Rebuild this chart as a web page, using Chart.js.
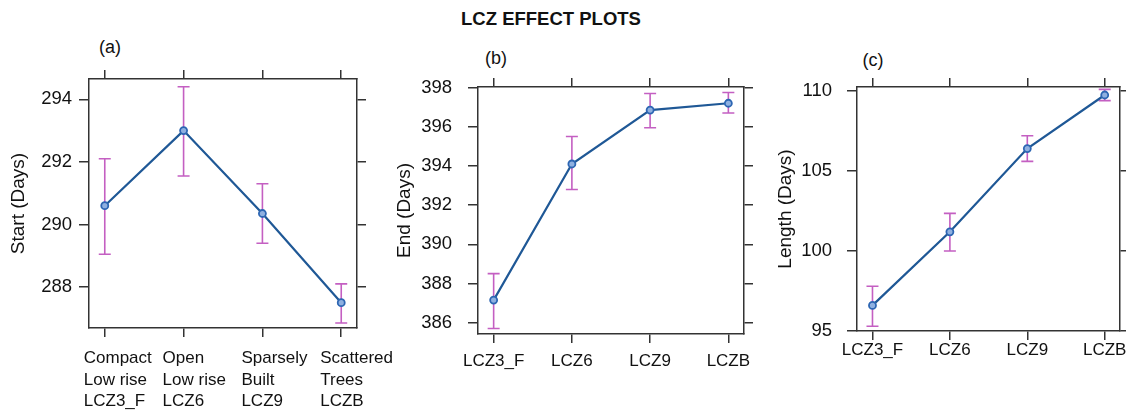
<!DOCTYPE html>
<html>
<head>
<meta charset="utf-8">
<script src="https://cdn.jsdelivr.net/npm/chart.js@4.4.1/dist/chart.umd.min.js"></script>
<style>
  body { margin: 0; background: #fff; width: 1126px; height: 414px; overflow: hidden; position: relative; font-family: 'Liberation Sans', Arial, sans-serif; }
  canvas { position: absolute; }
  .lbl { position: absolute; color: #111; font-size: 18px; transform: translate(-50%, -50%); white-space: nowrap; }
  #title { font-weight: bold; font-size: 18.5px; }
</style>
</head>
<body>
<div class="lbl" id="title" style="left:551px; top:19px;">LCZ EFFECT PLOTS</div>
<div class="lbl" style="left:110px; top:47px;">(a)</div>
<div class="lbl" style="left:496px; top:58px;">(b)</div>
<div class="lbl" style="left:873px; top:60px;">(c)</div>

<canvas id="chartB" width="375" height="340" style="left:380px; top:40px;"></canvas>
<canvas id="chartC" width="371" height="340" style="left:755px; top:40px;"></canvas>
<canvas id="chartA" width="400" height="374" style="left:0px; top:40px;"></canvas>

<script>
// categories
const zoneLabelsLong = [
    ['Compact', 'Low rise', 'LCZ3_F'],
    ['Open', 'Low rise', 'LCZ6'],
    ['Sparsely', 'Built', 'LCZ9'],
    ['Scattered', 'Trees', 'LCZB']
];
const zoneLabels = ['LCZ3_F', 'LCZ6', 'LCZ9', 'LCZB'];

// (a) start of season
const startMean = [290.6, 293.0, 290.35, 287.5];
const startLow = [289.05, 291.55, 289.4, 286.85];
const startHigh = [292.1, 294.4, 291.3, 288.1];
const startTicks = [288, 290, 292, 294];

// (b) end of season
const endMean = [387.15, 394.1, 396.85, 397.2];
const endLow = [385.7, 392.8, 395.95, 396.7];
const endHigh = [388.5, 395.5, 397.7, 397.75];
const endTicks = [386, 388, 390, 392, 394, 396, 398];

// (c) length of season
const lengthMean = [96.6, 101.2, 106.4, 109.75];
const lengthLow = [95.3, 100.0, 105.6, 109.4];
const lengthHigh = [97.8, 102.35, 107.2, 110.1];
const lengthTicks = [95, 100, 105, 110];

const FONT = "'Liberation Sans', Arial, sans-serif";
const INK = '#333';

// draws the magenta confidence bars under the line
const errorBars = {
    id: 'errorBars',
    beforeDatasetsDraw(chart, args, opts) {
        const ctx = chart.ctx;
        const x = chart.scales.x;
        const y = chart.scales.y;
        ctx.save();
        ctx.strokeStyle = opts.color;
        ctx.lineWidth = 1.6;
        opts.low.forEach((lo, i) => {
            const px = x.getPixelForValue(i);
            const y1 = y.getPixelForValue(lo);
            const y2 = y.getPixelForValue(opts.high[i]);
            ctx.beginPath();
            ctx.moveTo(px, y1);
            ctx.lineTo(px, y2);
            ctx.moveTo(px - 6, y1);
            ctx.lineTo(px + 6, y1);
            ctx.moveTo(px - 6, y2);
            ctx.lineTo(px + 6, y2);
            ctx.stroke();
        });
        ctx.restore();
    }
};

// fix an axis box to a set size, with no extra label padding
function fixBox(size, horizontal) {
    return s => {
        if (horizontal) s.height = size; else s.width = size;
        s.paddingLeft = 0;
        s.paddingRight = 0;
        s.paddingTop = 0;
        s.paddingBottom = 0;
    };
}

function createPanel(elementId, p) {
    const ctx = document.getElementById(elementId).getContext('2d');
    const catTicks = s => { s.ticks = p.labels.map((_, i) => ({ value: i })); };
    const valTicks = s => { s.ticks = p.yTicks.map(v => ({ value: v })); };
    const grid = { drawOnChartArea: false, color: INK, lineWidth: 1.5, tickLength: 9 };
    const border = { display: true, color: INK, width: 1.5 };
    return new Chart(ctx, {
        type: 'line',
        data: {
            datasets: [{
                data: p.mean.map((v, i) => ({ x: i, y: v })),
                borderColor: '#1f5896',
                borderWidth: 2.2,
                pointRadius: 3.5,
                pointBorderWidth: 1.8,
                pointBorderColor: '#2d66b3',
                pointBackgroundColor: '#8fb0e0',
                tension: 0
            }]
        },
        options: {
            responsive: false,
            animation: false,
            layout: { padding: 0 },
            plugins: {
                legend: { display: false },
                tooltip: { enabled: false },
                errorBars: { low: p.low, high: p.high, color: '#c45fc2' }
            },
            scales: {
                x: {
                    type: 'linear', position: 'bottom', min: -0.2, max: 3.2,
                    afterBuildTicks: catTicks,
                    afterFit: fixBox(p.bottomH, true),
                    grid: grid, border: border,
                    ticks: {
                        autoSkip: false, maxRotation: 0, color: '#111',
                        font: { family: FONT, size: 17, lineHeight: p.xLine },
                        padding: p.xPad, align: p.xAlign, labelOffset: p.xOffset,
                        callback: v => p.labels[v]
                    }
                },
                x2: {
                    type: 'linear', position: 'top', min: -0.2, max: 3.2,
                    afterBuildTicks: catTicks,
                    afterFit: fixBox(p.topH, true),
                    grid: grid, border: border,
                    ticks: { display: false }
                },
                y: {
                    min: p.yMin, max: p.yMax,
                    afterBuildTicks: valTicks,
                    afterFit: fixBox(p.leftW, false),
                    grid: Object.assign({}, grid, { tickLength: 10 }), border: border,
                    ticks: { color: '#111', font: { family: FONT, size: 18.5 }, padding: p.yPad },
                    title: {
                        display: true, text: p.title, color: '#111',
                        font: { family: FONT, size: 19 }, padding: { top: p.titlePad, bottom: 0 }
                    }
                },
                y2: {
                    position: 'right', min: p.yMin, max: p.yMax,
                    afterBuildTicks: valTicks,
                    afterFit: fixBox(p.rightW, false),
                    grid: grid, border: border,
                    ticks: { display: false }
                }
            }
        },
        plugins: [errorBars]
    });
}

createPanel('chartA', {
    labels: zoneLabelsLong, mean: startMean, low: startLow, high: startHigh,
    yTicks: startTicks, yMin: 286.69, yMax: 294.65, title: 'Start (Days)',
    leftW: 89, rightW: 43, topH: 39, bottomH: 86,
    yPad: 7, titlePad: 7.6, xPad: 11, xLine: 1.265, xAlign: 'start', xOffset: -21
});

createPanel('chartB', {
    labels: zoneLabels, mean: endMean, low: endLow, high: endHigh,
    yTicks: endTicks, yMin: 385.42, yMax: 398.03, title: 'End (Days)',
    leftW: 98, rightW: 11, topH: 47, bottomH: 46,
    yPad: 16, titlePad: 13.6, xPad: 8.5, xLine: 1.2, xAlign: 'center', xOffset: 0
});

createPanel('chartC', {
    labels: zoneLabels, mean: lengthMean, low: lengthLow, high: lengthHigh,
    yTicks: lengthTicks, yMin: 95, yMax: 110.25, title: 'Length (Days)',
    leftW: 102, rightW: 4, topH: 47, bottomH: 49,
    yPad: 15, titlePad: 19, xPad: 0, xLine: 1.2, xAlign: 'center', xOffset: 0
});
</script>
</body>
</html>
